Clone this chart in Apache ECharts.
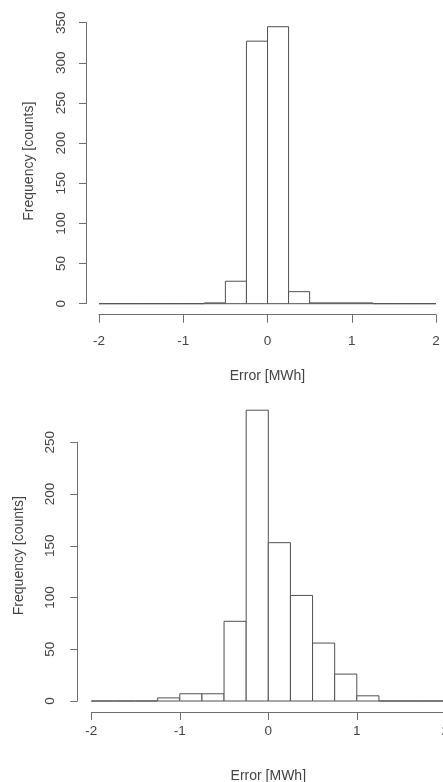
<!DOCTYPE html>
<html>
<head>
<meta charset="utf-8">
<script src="https://cdn.jsdelivr.net/npm/echarts@6/dist/echarts.min.js"></script>
<style>
  html, body { margin: 0; padding: 0; background: #fff; }
  #hist { width: 443px; height: 782px; }
</style>
</head>
<body>
<div id="hist"></div>
<script>
// bin edges shared by both histograms (width 0.25, from -2 to 2)
var binStarts = [-2, -1.75, -1.5, -1.25, -1, -0.75, -0.5, -0.25, 0, 0.25, 0.5, 0.75, 1, 1.25, 1.5, 1.75];
var binEnds   = [-1.75, -1.5, -1.25, -1, -0.75, -0.5, -0.25, 0, 0.25, 0.5, 0.75, 1, 1.25, 1.5, 1.75, 2];
var topCounts    = [0, 0, 0, 0, 0, 1, 28, 327, 345, 15, 1, 1, 1, 0, 0, 0];
var bottomCounts = [0, 0, 0, 3, 7, 7, 77, 281, 153, 102, 56, 26, 5, 0, 0, 0];
var xTicks = [-2, -1, 0, 1, 2];
var xTitle = 'Error [MWh]';
var yTitle = 'Frequency [counts]';

var textCol = '#444';
var axisCol = '#6e6e6e';
var barCol = '#505050';
var font = 'Liberation Sans, Arial, sans-serif';

function rows(counts) {
    var out = [];
    for (var i = 0; i < counts.length; i++) {
        out.push([binStarts[i], binEnds[i], counts[i]]);
    }
    return out;
}

function drawBin(params, api) {
    var p0 = api.coord([api.value(0), api.value(2)]);
    var p1 = api.coord([api.value(1), 0]);
    return {
        type: 'rect',
        shape: { x: p0[0], y: p0[1], width: p1[0] - p0[0], height: p1[1] - p0[1] },
        style: { fill: '#fff', stroke: barCol, lineWidth: 1 }
    };
}

function xAxisFor(gi, offset, margin, gap) {
    return {
        type: 'value', gridIndex: gi, min: xTicks[0], max: xTicks[xTicks.length - 1], interval: 1,
        offset: offset,
        axisLine: { show: true, onZero: false, lineStyle: { color: axisCol, width: 1 } },
        axisTick: { show: true, length: 8, lineStyle: { color: axisCol } },
        axisLabel: { color: textCol, fontSize: 13.5, fontFamily: font, margin: margin },
        splitLine: { show: false },
        name: xTitle, nameLocation: 'middle', nameGap: gap,
        nameTextStyle: { color: textCol, fontSize: 14, fontFamily: font }
    };
}

function yAxisFor(gi, max, offset, margin, gap, pad) {
    return {
        type: 'value', gridIndex: gi, min: 0, max: max, interval: 50,
        offset: offset,
        axisLine: { show: true, onZero: false, lineStyle: { color: axisCol, width: 1 } },
        axisTick: { show: true, length: 7, lineStyle: { color: axisCol } },
        axisLabel: { color: textCol, fontSize: 13.5, fontFamily: font, rotate: 90, margin: margin },
        splitLine: { show: false },
        name: yTitle, nameLocation: 'middle', nameGap: gap,
        nameTextStyle: { color: textCol, fontSize: 14, fontFamily: font, padding: pad }
    };
}

var chart = echarts.init(document.getElementById('hist'));
chart.setOption({
    animation: false,
    backgroundColor: '#fff',
    grid: [
        { left: 99, top: 22.7, width: 337, height: 281, outerBoundsMode: 'none' },
        { left: 91.3, top: 442.3, width: 354, height: 258.7, outerBoundsMode: 'none' }
    ],
    xAxis: [xAxisFor(0, 11, 20, 54), xAxisFor(1, 11, 12, 57)],
    yAxis: [yAxisFor(0, 350, 13, 18, 50, [0, 0, 0, 4]), yAxisFor(1, 250, 14, 20, 51, [0, 0, 0, 32])],
    series: [
        { type: 'custom', xAxisIndex: 0, yAxisIndex: 0, clip: false, renderItem: drawBin,
          encode: { x: [0, 1], y: 2 }, data: rows(topCounts) },
        { type: 'custom', xAxisIndex: 1, yAxisIndex: 1, clip: false, renderItem: drawBin,
          encode: { x: [0, 1], y: 2 }, data: rows(bottomCounts) }
    ]
});
</script>
</body>
</html>
